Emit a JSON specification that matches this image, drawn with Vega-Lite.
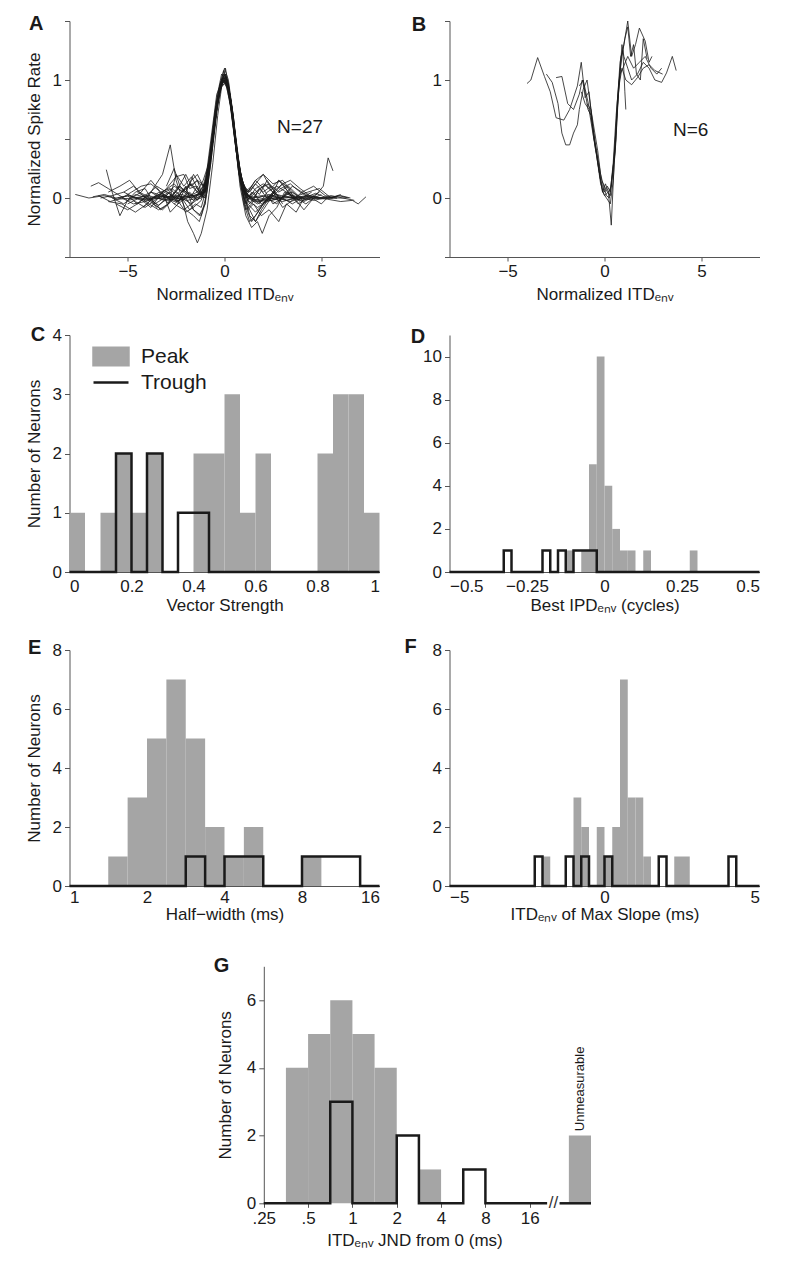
{
"$schema": "https://vega.github.io/schema/vega-lite/v6.json",
"background": "white",
"padding": {"left": 24.5, "top": 12, "right": 5, "bottom": 5},
"config": {
  "view": {"stroke": null},
  "font": "Liberation Sans",
  "axis": {"grid": false, "labelOverlap": false, "domainColor": "#555", "tickColor": "#555", "labelColor": "#1a1a1a", "titleColor": "#1a1a1a", "labelFont": "Liberation Sans", "titleFont": "Liberation Sans", "labelFontSize": 17, "titleFontSize": 17, "titleFontWeight": "normal", "tickSize": 5, "labelPadding": 3, "titlePadding": 8},
  "title": {"fontSize": 20, "fontWeight": "bold", "anchor": "start", "frame": "group", "offset": 0, "baseline": "alphabetic", "color": "#1a1a1a", "font": "Liberation Sans"}
},
"resolve": {"scale": {"color": "independent"}, "legend": {"color": "independent"}},
"datasets": {
"a": [
{"c":1,"x":-7.7,"y":0.03},{"c":1,"x":-7.0,"y":0.0},{"c":1,"x":-6.2,"y":0.02},{"c":1,"x":-5.5,"y":-0.01},{"c":1,"x":-4.7,"y":0.0},{"c":1,"x":-3.9,"y":0.02},{"c":1,"x":-3.1,"y":-0.02},{"c":1,"x":-2.3,"y":0.01},{"c":1,"x":-1.6,"y":0.02},{"c":1,"x":-1.1,"y":0.05},{"c":1,"x":-0.7,"y":0.35},{"c":1,"x":-0.4,"y":0.76},{"c":1,"x":-0.15,"y":0.97},{"c":1,"x":0,"y":1.0},{"c":1,"x":0.15,"y":0.95},{"c":1,"x":0.4,"y":0.7},{"c":1,"x":0.7,"y":0.3},{"c":1,"x":1.1,"y":0.03},{"c":1,"x":1.7,"y":-0.03},{"c":1,"x":2.4,"y":-0.02},{"c":1,"x":3.1,"y":0.0},{"c":1,"x":3.9,"y":0.01},{"c":1,"x":4.6,"y":0.0},{"c":1,"x":5.3,"y":-0.01},{"c":1,"x":6.0,"y":-0.03},{"c":1,"x":6.6,"y":-0.02},{"c":1,"x":6.9,"y":-0.05},{"c":1,"x":7.3,"y":0.01},
{"c":2,"x":-6.9,"y":0.1},{"c":2,"x":-6.5,"y":0.13},{"c":2,"x":-6.0,"y":0.08},{"c":2,"x":-5.6,"y":0.04},{"c":2,"x":-5.0,"y":-0.02},{"c":2,"x":-4.4,"y":0.0},{"c":2,"x":-3.8,"y":0.05},{"c":2,"x":-3.2,"y":0.02},{"c":2,"x":-2.6,"y":-0.03},{"c":2,"x":-2.0,"y":0.0},{"c":2,"x":-1.5,"y":0.02},{"c":2,"x":-1.0,"y":0.08},{"c":2,"x":-0.65,"y":0.42},{"c":2,"x":-0.35,"y":0.82},{"c":2,"x":-0.1,"y":1.02},{"c":2,"x":0.1,"y":1.0},{"c":2,"x":0.35,"y":0.78},{"c":2,"x":0.65,"y":0.38},{"c":2,"x":1.0,"y":0.07},{"c":2,"x":1.5,"y":-0.02},{"c":2,"x":2.1,"y":0.0},{"c":2,"x":2.7,"y":0.03},{"c":2,"x":3.4,"y":0.0},{"c":2,"x":4.0,"y":-0.02},{"c":2,"x":4.6,"y":0.01},{"c":2,"x":5.2,"y":0.0},{"c":2,"x":5.9,"y":0.0},{"c":2,"x":6.3,"y":0.0},
{"c":3,"x":-6.1,"y":0.24},{"c":3,"x":-5.8,"y":0.05},{"c":3,"x":-5.4,"y":-0.15},{"c":3,"x":-5.0,"y":-0.02},{"c":3,"x":-4.6,"y":0.05},{"c":3,"x":-4.1,"y":0.08},{"c":3,"x":-3.6,"y":-0.05},{"c":3,"x":-3.1,"y":0.0},{"c":3,"x":-2.6,"y":0.1},{"c":3,"x":-2.1,"y":0.05},{"c":3,"x":-1.6,"y":-0.02},{"c":3,"x":-1.2,"y":0.0},{"c":3,"x":-0.8,"y":0.25},{"c":3,"x":-0.45,"y":0.7},{"c":3,"x":-0.15,"y":0.95},{"c":3,"x":0.05,"y":1.05},{"c":3,"x":0.25,"y":0.9},{"c":3,"x":0.5,"y":0.6},{"c":3,"x":0.8,"y":0.2},{"c":3,"x":1.2,"y":0.0},{"c":3,"x":1.7,"y":-0.05},{"c":3,"x":2.3,"y":0.02},{"c":3,"x":2.9,"y":0.0},{"c":3,"x":3.5,"y":0.05},{"c":3,"x":4.1,"y":-0.03},{"c":3,"x":4.7,"y":0.02},{"c":3,"x":5.1,"y":0.1},{"c":3,"x":5.35,"y":0.34},{"c":3,"x":5.6,"y":0.23},
{"c":4,"x":-4.5,"y":0.05},{"c":4,"x":-4.0,"y":0.0},{"c":4,"x":-3.6,"y":0.1},{"c":4,"x":-3.2,"y":0.2},{"c":4,"x":-2.8,"y":0.45},{"c":4,"x":-2.5,"y":0.15},{"c":4,"x":-2.2,"y":0.0},{"c":4,"x":-1.9,"y":-0.2},{"c":4,"x":-1.6,"y":-0.3},{"c":4,"x":-1.4,"y":-0.38},{"c":4,"x":-1.2,"y":-0.3},{"c":4,"x":-0.9,"y":-0.1},{"c":4,"x":-0.6,"y":0.3},{"c":4,"x":-0.35,"y":0.7},{"c":4,"x":-0.1,"y":1.0},{"c":4,"x":0.05,"y":1.1},{"c":4,"x":0.2,"y":0.95},{"c":4,"x":0.45,"y":0.65},{"c":4,"x":0.7,"y":0.25},{"c":4,"x":1.0,"y":-0.05},{"c":4,"x":1.3,"y":-0.2},{"c":4,"x":1.6,"y":-0.15},{"c":4,"x":2.0,"y":-0.05},{"c":4,"x":2.5,"y":0.05},{"c":4,"x":3.0,"y":0.0},{"c":4,"x":3.5,"y":-0.05},{"c":4,"x":4.0,"y":0.0},
{"c":5,"x":-5.0,"y":-0.05},{"c":5,"x":-4.4,"y":0.0},{"c":5,"x":-3.8,"y":-0.08},{"c":5,"x":-3.2,"y":0.05},{"c":5,"x":-2.6,"y":0.12},{"c":5,"x":-2.2,"y":0.05},{"c":5,"x":-1.8,"y":0.1},{"c":5,"x":-1.4,"y":0.15},{"c":5,"x":-1.0,"y":0.1},{"c":5,"x":-0.7,"y":0.4},{"c":5,"x":-0.4,"y":0.8},{"c":5,"x":-0.15,"y":1.0},{"c":5,"x":0.05,"y":1.05},{"c":5,"x":0.3,"y":0.85},{"c":5,"x":0.55,"y":0.5},{"c":5,"x":0.8,"y":0.1},{"c":5,"x":1.1,"y":-0.15},{"c":5,"x":1.4,"y":-0.25},{"c":5,"x":1.7,"y":-0.2},{"c":5,"x":1.95,"y":-0.3},{"c":5,"x":2.3,"y":-0.15},{"c":5,"x":2.7,"y":-0.08},{"c":5,"x":3.1,"y":0.05},{"c":5,"x":3.6,"y":0.0},{"c":5,"x":4.1,"y":-0.1},{"c":5,"x":4.6,"y":0.0},{"c":5,"x":5.0,"y":0.03},
{"c":6,"x":-6.0,"y":0.05},{"c":6,"x":-5.4,"y":0.1},{"c":6,"x":-4.9,"y":0.15},{"c":6,"x":-4.4,"y":0.05},{"c":6,"x":-3.8,"y":0.0},{"c":6,"x":-3.3,"y":0.03},{"c":6,"x":-2.7,"y":0.08},{"c":6,"x":-2.2,"y":0.0},{"c":6,"x":-1.7,"y":-0.05},{"c":6,"x":-1.3,"y":0.0},{"c":6,"x":-1.0,"y":0.05},{"c":6,"x":-0.7,"y":0.4},{"c":6,"x":-0.4,"y":0.8},{"c":6,"x":-0.15,"y":0.95},{"c":6,"x":0.05,"y":0.98},{"c":6,"x":0.3,"y":0.8},{"c":6,"x":0.6,"y":0.42},{"c":6,"x":0.9,"y":0.1},{"c":6,"x":1.3,"y":0.0},{"c":6,"x":1.8,"y":0.08},{"c":6,"x":2.3,"y":0.12},{"c":6,"x":2.8,"y":0.05},{"c":6,"x":3.3,"y":0.1},{"c":6,"x":3.8,"y":0.02},{"c":6,"x":4.3,"y":0.05},{"c":6,"x":4.9,"y":0.08},{"c":6,"x":5.5,"y":0.0},{"c":6,"x":6.0,"y":0.03},
{"c":7,"x":-5.6,"y":-0.05},{"c":7,"x":-5.0,"y":-0.1},{"c":7,"x":-4.5,"y":-0.05},{"c":7,"x":-4.0,"y":0.02},{"c":7,"x":-3.5,"y":0.1},{"c":7,"x":-3.0,"y":0.05},{"c":7,"x":-2.5,"y":0.0},{"c":7,"x":-2.0,"y":-0.12},{"c":7,"x":-1.6,"y":-0.08},{"c":7,"x":-1.2,"y":-0.02},{"c":7,"x":-0.9,"y":0.15},{"c":7,"x":-0.6,"y":0.5},{"c":7,"x":-0.3,"y":0.88},{"c":7,"x":-0.05,"y":1.0},{"c":7,"x":0.2,"y":0.92},{"c":7,"x":0.45,"y":0.6},{"c":7,"x":0.75,"y":0.2},{"c":7,"x":1.1,"y":0.02},{"c":7,"x":1.5,"y":0.1},{"c":7,"x":2.0,"y":0.2},{"c":7,"x":2.5,"y":0.12},{"c":7,"x":3.0,"y":0.15},{"c":7,"x":3.5,"y":0.05},{"c":7,"x":4.0,"y":0.0},{"c":7,"x":4.5,"y":0.05},
{"c":8,"x":-4.8,"y":0.0},{"c":8,"x":-4.3,"y":0.05},{"c":8,"x":-3.8,"y":0.15},{"c":8,"x":-3.3,"y":0.05},{"c":8,"x":-2.9,"y":-0.05},{"c":8,"x":-2.4,"y":0.1},{"c":8,"x":-2.0,"y":0.05},{"c":8,"x":-1.6,"y":0.2},{"c":8,"x":-1.3,"y":0.12},{"c":8,"x":-1.0,"y":0.1},{"c":8,"x":-0.7,"y":0.45},{"c":8,"x":-0.4,"y":0.85},{"c":8,"x":-0.15,"y":1.05},{"c":8,"x":0.05,"y":1.0},{"c":8,"x":0.3,"y":0.78},{"c":8,"x":0.6,"y":0.4},{"c":8,"x":0.9,"y":0.12},{"c":8,"x":1.2,"y":0.05},{"c":8,"x":1.6,"y":0.15},{"c":8,"x":2.0,"y":0.2},{"c":8,"x":2.4,"y":0.08},{"c":8,"x":2.8,"y":0.15},{"c":8,"x":3.3,"y":0.05},{"c":8,"x":3.8,"y":-0.05},{"c":8,"x":4.3,"y":0.0},
{"c":9,"x":-3.8,"y":0.0},{"c":9,"x":-3.3,"y":-0.1},{"c":9,"x":-2.9,"y":-0.05},{"c":9,"x":-2.5,"y":0.2},{"c":9,"x":-2.1,"y":0.1},{"c":9,"x":-1.7,"y":0.18},{"c":9,"x":-1.3,"y":0.05},{"c":9,"x":-1.0,"y":0.12},{"c":9,"x":-0.7,"y":0.5},{"c":9,"x":-0.4,"y":0.88},{"c":9,"x":-0.1,"y":1.0},{"c":9,"x":0.15,"y":0.95},{"c":9,"x":0.4,"y":0.7},{"c":9,"x":0.7,"y":0.3},{"c":9,"x":1.0,"y":0.05},{"c":9,"x":1.3,"y":-0.15},{"c":9,"x":1.6,"y":-0.2},{"c":9,"x":2.0,"y":-0.1},{"c":9,"x":2.4,"y":0.0},{"c":9,"x":2.8,"y":0.15},{"c":9,"x":3.2,"y":0.1},{"c":9,"x":3.6,"y":0.0},
{"c":10,"x":-3.2,"y":0.0},{"c":10,"x":-2.8,"y":0.05},{"c":10,"x":-2.4,"y":-0.05},{"c":10,"x":-2.0,"y":0.1},{"c":10,"x":-1.6,"y":-0.1},{"c":10,"x":-1.3,"y":-0.15},{"c":10,"x":-1.0,"y":-0.05},{"c":10,"x":-0.75,"y":0.3},{"c":10,"x":-0.45,"y":0.75},{"c":10,"x":-0.2,"y":0.98},{"c":10,"x":0.0,"y":1.02},{"c":10,"x":0.25,"y":0.88},{"c":10,"x":0.5,"y":0.55},{"c":10,"x":0.8,"y":0.15},{"c":10,"x":1.1,"y":-0.1},{"c":10,"x":1.4,"y":-0.05},{"c":10,"x":1.8,"y":0.08},{"c":10,"x":2.2,"y":0.0},{"c":10,"x":2.6,"y":0.05},{"c":10,"x":3.0,"y":-0.05},
{"c":11,"x":-6.5,"y":0.02},{"c":11,"x":-5.9,"y":-0.03},{"c":11,"x":-5.3,"y":0.0},{"c":11,"x":-4.7,"y":-0.05},{"c":11,"x":-4.1,"y":-0.03},{"c":11,"x":-3.5,"y":0.0},{"c":11,"x":-2.9,"y":-0.02},{"c":11,"x":-2.3,"y":0.0},{"c":11,"x":-1.7,"y":0.02},{"c":11,"x":-1.2,"y":0.03},{"c":11,"x":-0.8,"y":0.25},{"c":11,"x":-0.45,"y":0.72},{"c":11,"x":-0.2,"y":0.95},{"c":11,"x":0,"y":1.0},{"c":11,"x":0.2,"y":0.95},{"c":11,"x":0.45,"y":0.7},{"c":11,"x":0.8,"y":0.22},{"c":11,"x":1.2,"y":0.0},{"c":11,"x":1.8,"y":-0.02},{"c":11,"x":2.4,"y":0.0},{"c":11,"x":3.0,"y":-0.03},{"c":11,"x":3.6,"y":0.0},{"c":11,"x":4.2,"y":0.02},{"c":11,"x":4.8,"y":0.0},{"c":11,"x":5.4,"y":0.0},{"c":11,"x":6.0,"y":0.02},{"c":11,"x":6.5,"y":0.0},
{"c":12,"x":-5.5,"y":0.0},{"c":12,"x":-4.9,"y":0.02},{"c":12,"x":-4.3,"y":-0.02},{"c":12,"x":-3.7,"y":0.0},{"c":12,"x":-3.1,"y":0.02},{"c":12,"x":-2.5,"y":0.0},{"c":12,"x":-1.9,"y":-0.02},{"c":12,"x":-1.4,"y":0.0},{"c":12,"x":-1.0,"y":0.06},{"c":12,"x":-0.65,"y":0.42},{"c":12,"x":-0.35,"y":0.83},{"c":12,"x":-0.1,"y":0.98},{"c":12,"x":0.1,"y":0.98},{"c":12,"x":0.35,"y":0.8},{"c":12,"x":0.65,"y":0.38},{"c":12,"x":1.0,"y":0.05},{"c":12,"x":1.5,"y":-0.03},{"c":12,"x":2.0,"y":-0.02},{"c":12,"x":2.6,"y":0.0},{"c":12,"x":3.2,"y":-0.02},{"c":12,"x":3.8,"y":0.0},{"c":12,"x":4.4,"y":0.02},{"c":12,"x":5.0,"y":0.0},{"c":12,"x":5.6,"y":0.0},
{"c":13,"x":-6.0,"y":-0.03},{"c":13,"x":-5.3,"y":-0.05},{"c":13,"x":-4.6,"y":-0.12},{"c":13,"x":-4.0,"y":-0.05},{"c":13,"x":-3.4,"y":0.05},{"c":13,"x":-2.8,"y":0.0},{"c":13,"x":-2.3,"y":0.1},{"c":13,"x":-1.8,"y":0.02},{"c":13,"x":-1.4,"y":0.05},{"c":13,"x":-1.0,"y":0.05},{"c":13,"x":-0.7,"y":0.38},{"c":13,"x":-0.4,"y":0.8},{"c":13,"x":-0.15,"y":1.0},{"c":13,"x":0.1,"y":1.02},{"c":13,"x":0.35,"y":0.75},{"c":13,"x":0.6,"y":0.4},{"c":13,"x":0.9,"y":0.1},{"c":13,"x":1.2,"y":-0.05},{"c":13,"x":1.6,"y":-0.12},{"c":13,"x":2.0,"y":-0.05},{"c":13,"x":2.5,"y":0.05},{"c":13,"x":3.0,"y":-0.08},{"c":13,"x":3.5,"y":-0.02},{"c":13,"x":4.0,"y":0.05},{"c":13,"x":4.6,"y":0.1},{"c":13,"x":5.2,"y":0.02},{"c":13,"x":5.8,"y":0.0},
{"c":14,"x":-5.0,"y":0.02},{"c":14,"x":-4.5,"y":-0.05},{"c":14,"x":-4.0,"y":0.02},{"c":14,"x":-3.5,"y":-0.08},{"c":14,"x":-3.0,"y":0.0},{"c":14,"x":-2.5,"y":0.05},{"c":14,"x":-2.0,"y":0.2},{"c":14,"x":-1.7,"y":0.1},{"c":14,"x":-1.4,"y":0.15},{"c":14,"x":-1.1,"y":0.0},{"c":14,"x":-0.8,"y":0.2},{"c":14,"x":-0.5,"y":0.65},{"c":14,"x":-0.25,"y":0.92},{"c":14,"x":0.0,"y":1.0},{"c":14,"x":0.25,"y":0.9},{"c":14,"x":0.5,"y":0.6},{"c":14,"x":0.8,"y":0.18},{"c":14,"x":1.1,"y":0.0},{"c":14,"x":1.5,"y":0.05},{"c":14,"x":1.9,"y":-0.05},{"c":14,"x":2.4,"y":0.0},{"c":14,"x":2.9,"y":0.08},{"c":14,"x":3.4,"y":0.12},{"c":14,"x":3.9,"y":0.05},{"c":14,"x":4.4,"y":0.0},{"c":14,"x":4.9,"y":0.05},
{"c":15,"x":-4.2,"y":-0.08},{"c":15,"x":-3.7,"y":0.0},{"c":15,"x":-3.2,"y":0.05},{"c":15,"x":-2.8,"y":-0.12},{"c":15,"x":-2.4,"y":-0.05},{"c":15,"x":-2.0,"y":0.0},{"c":15,"x":-1.6,"y":-0.1},{"c":15,"x":-1.2,"y":-0.15},{"c":15,"x":-0.9,"y":0.05},{"c":15,"x":-0.6,"y":0.45},{"c":15,"x":-0.3,"y":0.85},{"c":15,"x":-0.05,"y":1.05},{"c":15,"x":0.2,"y":0.98},{"c":15,"x":0.45,"y":0.68},{"c":15,"x":0.75,"y":0.25},{"c":15,"x":1.05,"y":-0.05},{"c":15,"x":1.4,"y":-0.2},{"c":15,"x":1.8,"y":-0.1},{"c":15,"x":2.2,"y":0.0},{"c":15,"x":2.7,"y":-0.05},{"c":15,"x":3.2,"y":0.05},{"c":15,"x":3.7,"y":0.0},
{"c":16,"x":-3.0,"y":0.1},{"c":16,"x":-2.6,"y":0.25},{"c":16,"x":-2.3,"y":0.1},{"c":16,"x":-2.0,"y":0.05},{"c":16,"x":-1.7,"y":0.15},{"c":16,"x":-1.4,"y":0.2},{"c":16,"x":-1.1,"y":0.1},{"c":16,"x":-0.8,"y":0.3},{"c":16,"x":-0.5,"y":0.7},{"c":16,"x":-0.25,"y":0.95},{"c":16,"x":0.0,"y":1.05},{"c":16,"x":0.2,"y":0.95},{"c":16,"x":0.45,"y":0.65},{"c":16,"x":0.7,"y":0.3},{"c":16,"x":1.0,"y":0.1},{"c":16,"x":1.3,"y":0.05},{"c":16,"x":1.6,"y":0.12},{"c":16,"x":2.0,"y":0.05},{"c":16,"x":2.4,"y":0.1},{"c":16,"x":2.8,"y":0.0},
{"c":17,"x":-2.6,"y":-0.05},{"c":17,"x":-2.2,"y":0.0},{"c":17,"x":-1.8,"y":-0.1},{"c":17,"x":-1.5,"y":-0.05},{"c":17,"x":-1.2,"y":-0.08},{"c":17,"x":-0.9,"y":0.1},{"c":17,"x":-0.6,"y":0.5},{"c":17,"x":-0.3,"y":0.9},{"c":17,"x":-0.05,"y":1.08},{"c":17,"x":0.2,"y":0.96},{"c":17,"x":0.45,"y":0.7},{"c":17,"x":0.7,"y":0.3},{"c":17,"x":1.0,"y":0.0},{"c":17,"x":1.3,"y":-0.1},{"c":17,"x":1.6,"y":-0.2},{"c":17,"x":1.9,"y":-0.1},{"c":17,"x":2.3,"y":0.0},{"c":17,"x":2.6,"y":0.05},
{"c":18,"x":-6.4,"y":0.0},{"c":18,"x":-5.8,"y":0.02},{"c":18,"x":-5.2,"y":0.05},{"c":18,"x":-4.6,"y":0.0},{"c":18,"x":-4.0,"y":-0.02},{"c":18,"x":-3.4,"y":0.02},{"c":18,"x":-2.8,"y":0.0},{"c":18,"x":-2.2,"y":0.03},{"c":18,"x":-1.7,"y":0.0},{"c":18,"x":-1.2,"y":0.04},{"c":18,"x":-0.85,"y":0.2},{"c":18,"x":-0.55,"y":0.6},{"c":18,"x":-0.25,"y":0.92},{"c":18,"x":0.0,"y":0.97},{"c":18,"x":0.25,"y":0.9},{"c":18,"x":0.55,"y":0.55},{"c":18,"x":0.85,"y":0.18},{"c":18,"x":1.2,"y":0.02},{"c":18,"x":1.7,"y":0.0},{"c":18,"x":2.3,"y":0.03},{"c":18,"x":2.9,"y":0.0},{"c":18,"x":3.5,"y":0.02},{"c":18,"x":4.1,"y":0.0},{"c":18,"x":4.7,"y":0.04},{"c":18,"x":5.3,"y":0.0},{"c":18,"x":5.9,"y":0.02},{"c":18,"x":6.4,"y":0.0},
{"c":19,"x":-5.2,"y":0.05},{"c":19,"x":-4.7,"y":0.1},{"c":19,"x":-4.2,"y":0.02},{"c":19,"x":-3.7,"y":-0.05},{"c":19,"x":-3.2,"y":-0.1},{"c":19,"x":-2.7,"y":-0.02},{"c":19,"x":-2.2,"y":0.05},{"c":19,"x":-1.8,"y":0.12},{"c":19,"x":-1.4,"y":0.05},{"c":19,"x":-1.0,"y":0.0},{"c":19,"x":-0.7,"y":0.35},{"c":19,"x":-0.4,"y":0.78},{"c":19,"x":-0.15,"y":0.98},{"c":19,"x":0.1,"y":1.0},{"c":19,"x":0.35,"y":0.8},{"c":19,"x":0.6,"y":0.45},{"c":19,"x":0.9,"y":0.15},{"c":19,"x":1.2,"y":0.05},{"c":19,"x":1.6,"y":0.15},{"c":19,"x":2.0,"y":0.08},{"c":19,"x":2.5,"y":-0.05},{"c":19,"x":3.0,"y":0.0},{"c":19,"x":3.5,"y":0.1},{"c":19,"x":4.0,"y":0.05},{"c":19,"x":4.5,"y":0.0},{"c":19,"x":5.0,"y":-0.05},{"c":19,"x":5.3,"y":0.0},
{"c":20,"x":-4.6,"y":-0.03},{"c":20,"x":-4.1,"y":-0.08},{"c":20,"x":-3.6,"y":-0.02},{"c":20,"x":-3.1,"y":0.03},{"c":20,"x":-2.6,"y":-0.05},{"c":20,"x":-2.1,"y":-0.1},{"c":20,"x":-1.7,"y":-0.05},{"c":20,"x":-1.3,"y":0.05},{"c":20,"x":-0.95,"y":0.15},{"c":20,"x":-0.65,"y":0.5},{"c":20,"x":-0.35,"y":0.85},{"c":20,"x":-0.1,"y":1.0},{"c":20,"x":0.15,"y":0.98},{"c":20,"x":0.4,"y":0.72},{"c":20,"x":0.7,"y":0.28},{"c":20,"x":1.0,"y":0.05},{"c":20,"x":1.4,"y":0.0},{"c":20,"x":1.8,"y":-0.05},{"c":20,"x":2.2,"y":0.05},{"c":20,"x":2.7,"y":0.1},{"c":20,"x":3.2,"y":0.05},{"c":20,"x":3.7,"y":0.0},{"c":20,"x":4.2,"y":-0.05},{"c":20,"x":4.6,"y":0.0},
{"c":21,"x":-2.0,"y":0.05},{"c":21,"x":-1.7,"y":0.02},{"c":21,"x":-1.4,"y":0.1},{"c":21,"x":-1.15,"y":0.02},{"c":21,"x":-0.9,"y":0.12},{"c":21,"x":-0.65,"y":0.45},{"c":21,"x":-0.4,"y":0.8},{"c":21,"x":-0.15,"y":1.0},{"c":21,"x":0.1,"y":1.03},{"c":21,"x":0.35,"y":0.8},{"c":21,"x":0.6,"y":0.4},{"c":21,"x":0.85,"y":0.1},{"c":21,"x":1.1,"y":-0.05},{"c":21,"x":1.4,"y":0.05},{"c":21,"x":1.7,"y":0.0},{"c":21,"x":2.0,"y":0.02},
{"c":22,"x":-5.8,"y":0.0},{"c":22,"x":-5.2,"y":-0.05},{"c":22,"x":-4.6,"y":0.03},{"c":22,"x":-4.0,"y":0.0},{"c":22,"x":-3.4,"y":-0.06},{"c":22,"x":-2.9,"y":0.0},{"c":22,"x":-2.4,"y":-0.03},{"c":22,"x":-1.9,"y":0.05},{"c":22,"x":-1.5,"y":0.0},{"c":22,"x":-1.1,"y":0.02},{"c":22,"x":-0.75,"y":0.3},{"c":22,"x":-0.45,"y":0.75},{"c":22,"x":-0.2,"y":0.96},{"c":22,"x":0.05,"y":1.0},{"c":22,"x":0.3,"y":0.85},{"c":22,"x":0.55,"y":0.5},{"c":22,"x":0.85,"y":0.15},{"c":22,"x":1.2,"y":-0.02},{"c":22,"x":1.7,"y":-0.08},{"c":22,"x":2.2,"y":-0.03},{"c":22,"x":2.8,"y":0.0},{"c":22,"x":3.4,"y":-0.03},{"c":22,"x":4.0,"y":0.0},{"c":22,"x":4.6,"y":-0.02},{"c":22,"x":5.2,"y":0.0},{"c":22,"x":5.8,"y":0.0},
{"c":23,"x":-3.5,"y":0.0},{"c":23,"x":-3.0,"y":0.08},{"c":23,"x":-2.5,"y":0.18},{"c":23,"x":-2.1,"y":0.2},{"c":23,"x":-1.8,"y":0.08},{"c":23,"x":-1.5,"y":0.1},{"c":23,"x":-1.2,"y":0.03},{"c":23,"x":-0.9,"y":0.08},{"c":23,"x":-0.6,"y":0.5},{"c":23,"x":-0.3,"y":0.88},{"c":23,"x":-0.05,"y":1.0},{"c":23,"x":0.2,"y":0.95},{"c":23,"x":0.45,"y":0.68},{"c":23,"x":0.75,"y":0.25},{"c":23,"x":1.05,"y":0.05},{"c":23,"x":1.4,"y":0.1},{"c":23,"x":1.8,"y":0.03},{"c":23,"x":2.2,"y":0.15},{"c":23,"x":2.6,"y":0.05},{"c":23,"x":3.0,"y":0.12},{"c":23,"x":3.5,"y":0.0},
{"c":24,"x":-4.3,"y":0.0},{"c":24,"x":-3.9,"y":-0.05},{"c":24,"x":-3.4,"y":-0.1},{"c":24,"x":-2.9,"y":-0.05},{"c":24,"x":-2.4,"y":0.05},{"c":24,"x":-2.0,"y":-0.1},{"c":24,"x":-1.6,"y":-0.15},{"c":24,"x":-1.3,"y":-0.2},{"c":24,"x":-1.0,"y":-0.05},{"c":24,"x":-0.7,"y":0.3},{"c":24,"x":-0.4,"y":0.75},{"c":24,"x":-0.15,"y":0.98},{"c":24,"x":0.1,"y":1.02},{"c":24,"x":0.35,"y":0.8},{"c":24,"x":0.6,"y":0.45},{"c":24,"x":0.9,"y":0.08},{"c":24,"x":1.2,"y":-0.1},{"c":24,"x":1.5,"y":-0.05},{"c":24,"x":1.9,"y":-0.15},{"c":24,"x":2.3,"y":-0.1},{"c":24,"x":2.8,"y":-0.2},{"c":24,"x":3.2,"y":-0.05},{"c":24,"x":3.7,"y":-0.12},{"c":24,"x":4.1,"y":0.0},
{"c":25,"x":-6.8,"y":0.01},{"c":25,"x":-6.2,"y":0.03},{"c":25,"x":-5.6,"y":0.0},{"c":25,"x":-5.0,"y":0.02},{"c":25,"x":-4.4,"y":0.0},{"c":25,"x":-3.8,"y":-0.01},{"c":25,"x":-3.2,"y":0.0},{"c":25,"x":-2.6,"y":0.02},{"c":25,"x":-2.0,"y":0.0},{"c":25,"x":-1.5,"y":0.01},{"c":25,"x":-1.05,"y":0.05},{"c":25,"x":-0.7,"y":0.35},{"c":25,"x":-0.4,"y":0.78},{"c":25,"x":-0.15,"y":0.98},{"c":25,"x":0.1,"y":1.0},{"c":25,"x":0.35,"y":0.8},{"c":25,"x":0.6,"y":0.45},{"c":25,"x":0.9,"y":0.12},{"c":25,"x":1.3,"y":0.0},{"c":25,"x":1.9,"y":0.02},{"c":25,"x":2.5,"y":0.0},{"c":25,"x":3.1,"y":0.01},{"c":25,"x":3.7,"y":0.0},{"c":25,"x":4.3,"y":-0.01},{"c":25,"x":4.9,"y":0.0},{"c":25,"x":5.5,"y":0.02},{"c":25,"x":6.1,"y":0.0},{"c":25,"x":6.7,"y":-0.02},
{"c":26,"x":-3.8,"y":0.05},{"c":26,"x":-3.3,"y":0.0},{"c":26,"x":-2.9,"y":0.05},{"c":26,"x":-2.5,"y":-0.02},{"c":26,"x":-2.1,"y":0.08},{"c":26,"x":-1.7,"y":0.12},{"c":26,"x":-1.4,"y":0.05},{"c":26,"x":-1.1,"y":0.15},{"c":26,"x":-0.8,"y":0.3},{"c":26,"x":-0.5,"y":0.72},{"c":26,"x":-0.25,"y":0.95},{"c":26,"x":0.0,"y":1.1},{"c":26,"x":0.2,"y":1.0},{"c":26,"x":0.45,"y":0.7},{"c":26,"x":0.7,"y":0.32},{"c":26,"x":1.0,"y":0.05},{"c":26,"x":1.3,"y":-0.05},{"c":26,"x":1.7,"y":0.05},{"c":26,"x":2.1,"y":0.12},{"c":26,"x":2.5,"y":0.05},{"c":26,"x":2.9,"y":0.0},{"c":26,"x":3.4,"y":0.05},{"c":26,"x":3.9,"y":-0.03},
{"c":27,"x":-5.3,"y":0.0},{"c":27,"x":-4.8,"y":0.05},{"c":27,"x":-4.3,"y":0.1},{"c":27,"x":-3.8,"y":0.12},{"c":27,"x":-3.3,"y":0.05},{"c":27,"x":-2.8,"y":0.08},{"c":27,"x":-2.3,"y":-0.02},{"c":27,"x":-1.8,"y":0.05},{"c":27,"x":-1.4,"y":-0.02},{"c":27,"x":-1.0,"y":0.08},{"c":27,"x":-0.7,"y":0.38},{"c":27,"x":-0.4,"y":0.8},{"c":27,"x":-0.15,"y":1.0},{"c":27,"x":0.1,"y":1.02},{"c":27,"x":0.35,"y":0.82},{"c":27,"x":0.6,"y":0.45},{"c":27,"x":0.9,"y":0.12},{"c":27,"x":1.2,"y":-0.02},{"c":27,"x":1.6,"y":0.08},{"c":27,"x":2.0,"y":0.12},{"c":27,"x":2.5,"y":0.05},{"c":27,"x":3.0,"y":0.12},{"c":27,"x":3.4,"y":0.15},{"c":27,"x":3.9,"y":0.08},{"c":27,"x":4.4,"y":0.02},{"c":27,"x":4.9,"y":0.0}
],
"b": [
{"c":1,"x":-4.0,"y":0.97},{"c":1,"x":-3.8,"y":1.0},{"c":1,"x":-3.45,"y":1.19},{"c":1,"x":-3.1,"y":1.03},{"c":1,"x":-2.8,"y":0.9},{"c":1,"x":-2.5,"y":0.68},{"c":1,"x":-2.1,"y":0.66},{"c":1,"x":-1.8,"y":0.75},{"c":1,"x":-1.4,"y":0.95},{"c":1,"x":-1.2,"y":1.15},{"c":1,"x":-1.0,"y":0.85},{"c":1,"x":-0.8,"y":0.9},{"c":1,"x":-0.6,"y":0.6},{"c":1,"x":-0.4,"y":0.35},{"c":1,"x":-0.2,"y":0.12},{"c":1,"x":0,"y":0.02},{"c":1,"x":0.2,"y":0.05},{"c":1,"x":0.35,"y":0.1},{"c":1,"x":0.5,"y":0.35},{"c":1,"x":0.65,"y":0.75},{"c":1,"x":0.8,"y":1.05},{"c":1,"x":0.9,"y":1.3},{"c":1,"x":1.0,"y":1.2},{"c":1,"x":1.2,"y":1.1},{"c":1,"x":1.4,"y":1.0},{"c":1,"x":1.7,"y":1.05},{"c":1,"x":2.0,"y":1.15},{"c":1,"x":2.3,"y":1.1},{"c":1,"x":2.6,"y":1.0},{"c":1,"x":2.95,"y":0.98},{"c":1,"x":3.2,"y":1.06},{"c":1,"x":3.5,"y":1.2},{"c":1,"x":3.7,"y":1.08},
{"c":2,"x":-3.0,"y":1.05},{"c":2,"x":-2.7,"y":0.98},{"c":2,"x":-2.4,"y":0.8},{"c":2,"x":-2.2,"y":0.55},{"c":2,"x":-2.0,"y":0.45},{"c":2,"x":-1.8,"y":0.45},{"c":2,"x":-1.6,"y":0.55},{"c":2,"x":-1.4,"y":0.62},{"c":2,"x":-1.3,"y":0.75},{"c":2,"x":-1.1,"y":0.92},{"c":2,"x":-0.9,"y":1.0},{"c":2,"x":-0.7,"y":0.75},{"c":2,"x":-0.5,"y":0.45},{"c":2,"x":-0.3,"y":0.25},{"c":2,"x":-0.1,"y":0.05},{"c":2,"x":0.1,"y":0.0},{"c":2,"x":0.3,"y":-0.05},{"c":2,"x":0.45,"y":0.15},{"c":2,"x":0.6,"y":0.55},{"c":2,"x":0.75,"y":0.95},{"c":2,"x":0.9,"y":1.1},{"c":2,"x":1.1,"y":1.0},{"c":2,"x":1.4,"y":0.96},{"c":2,"x":1.7,"y":1.02},{"c":2,"x":2.0,"y":1.1},{"c":2,"x":2.3,"y":1.13},{"c":2,"x":2.6,"y":1.08},{"c":2,"x":3.0,"y":1.05},
{"c":3,"x":-2.5,"y":1.02},{"c":3,"x":-2.2,"y":1.03},{"c":3,"x":-1.9,"y":0.8},{"c":3,"x":-1.6,"y":0.75},{"c":3,"x":-1.3,"y":0.88},{"c":3,"x":-1.15,"y":1.0},{"c":3,"x":-1.0,"y":0.9},{"c":3,"x":-0.85,"y":0.75},{"c":3,"x":-0.7,"y":0.7},{"c":3,"x":-0.55,"y":0.5},{"c":3,"x":-0.4,"y":0.4},{"c":3,"x":-0.25,"y":0.2},{"c":3,"x":-0.1,"y":0.05},{"c":3,"x":0.05,"y":0.12},{"c":3,"x":0.2,"y":0.05},{"c":3,"x":0.35,"y":-0.23},{"c":3,"x":0.5,"y":0.3},{"c":3,"x":0.6,"y":0.5},{"c":3,"x":0.7,"y":0.9},{"c":3,"x":0.8,"y":1.15},{"c":3,"x":1.0,"y":1.3},{"c":3,"x":1.2,"y":1.5},{"c":3,"x":1.4,"y":1.2},{"c":3,"x":1.6,"y":1.3},{"c":3,"x":1.8,"y":1.44},{"c":3,"x":2.1,"y":1.33},{"c":3,"x":2.3,"y":1.15},{"c":3,"x":2.45,"y":1.2},
{"c":4,"x":-1.3,"y":0.95},{"c":4,"x":-1.1,"y":1.0},{"c":4,"x":-0.9,"y":0.85},{"c":4,"x":-0.7,"y":0.7},{"c":4,"x":-0.5,"y":0.5},{"c":4,"x":-0.35,"y":0.3},{"c":4,"x":-0.2,"y":0.15},{"c":4,"x":0,"y":0.05},{"c":4,"x":0.15,"y":0.1},{"c":4,"x":0.3,"y":0.05},{"c":4,"x":0.45,"y":0.3},{"c":4,"x":0.6,"y":0.7},{"c":4,"x":0.75,"y":1.0},{"c":4,"x":0.9,"y":1.2},{"c":4,"x":1.05,"y":1.35},{"c":4,"x":1.2,"y":1.45},{"c":4,"x":1.35,"y":1.2},{"c":4,"x":1.5,"y":1.3},{"c":4,"x":1.65,"y":1.05},{"c":4,"x":1.85,"y":1.0},{"c":4,"x":2.0,"y":1.35},{"c":4,"x":2.2,"y":1.18},
{"c":5,"x":-1.2,"y":0.9},{"c":5,"x":-1.0,"y":0.8},{"c":5,"x":-0.8,"y":0.75},{"c":5,"x":-0.6,"y":0.55},{"c":5,"x":-0.45,"y":0.4},{"c":5,"x":-0.3,"y":0.3},{"c":5,"x":-0.15,"y":0.15},{"c":5,"x":0,"y":0.1},{"c":5,"x":0.15,"y":0.05},{"c":5,"x":0.3,"y":0.02},{"c":5,"x":0.45,"y":0.25},{"c":5,"x":0.6,"y":0.6},{"c":5,"x":0.75,"y":0.95},{"c":5,"x":0.85,"y":1.2},{"c":5,"x":0.95,"y":1.25},{"c":5,"x":1.05,"y":0.9},{"c":5,"x":1.1,"y":0.75},
{"c":6,"x":-0.9,"y":0.8},{"c":6,"x":-0.7,"y":0.75},{"c":6,"x":-0.5,"y":0.55},{"c":6,"x":-0.35,"y":0.4},{"c":6,"x":-0.2,"y":0.2},{"c":6,"x":-0.05,"y":0.1},{"c":6,"x":0.1,"y":0.02},{"c":6,"x":0.25,"y":0.0},{"c":6,"x":0.4,"y":0.2},{"c":6,"x":0.55,"y":0.4},{"c":6,"x":0.65,"y":0.8},{"c":6,"x":0.8,"y":1.05},{"c":6,"x":0.95,"y":1.1},{"c":6,"x":1.2,"y":1.2},{"c":6,"x":1.5,"y":1.1},{"c":6,"x":1.8,"y":1.15},{"c":6,"x":2.1,"y":1.2},{"c":6,"x":2.4,"y":1.1},{"c":6,"x":2.7,"y":1.05},{"c":6,"x":2.95,"y":1.1}
],
"cPeak": [{"x0":0,"x1":0.05,"n":1},{"x0":0.1,"x1":0.15,"n":1},{"x0":0.15,"x1":0.2,"n":2},{"x0":0.2,"x1":0.25,"n":1},{"x0":0.25,"x1":0.3,"n":2},{"x0":0.4,"x1":0.45,"n":2},{"x0":0.45,"x1":0.5,"n":2},{"x0":0.5,"x1":0.55,"n":3},{"x0":0.55,"x1":0.6,"n":1},{"x0":0.6,"x1":0.65,"n":2},{"x0":0.8,"x1":0.85,"n":2},{"x0":0.85,"x1":0.9,"n":3},{"x0":0.9,"x1":0.95,"n":3},{"x0":0.95,"x1":1,"n":1}],
"cTrough": [{"x":0,"n":0},{"x":0.15,"n":2},{"x":0.2,"n":0},{"x":0.25,"n":2},{"x":0.3,"n":0},{"x":0.35,"n":1},{"x":0.45,"n":0},{"x":1,"n":0}],
"dPeak": [{"x0":-0.125,"x1":-0.1,"n":1},{"x0":-0.075,"x1":-0.05,"n":1},{"x0":-0.05,"x1":-0.025,"n":5},{"x0":-0.025,"x1":0,"n":10},{"x0":0,"x1":0.025,"n":4},{"x0":0.025,"x1":0.05,"n":2},{"x0":0.05,"x1":0.075,"n":1},{"x0":0.075,"x1":0.1,"n":1},{"x0":0.125,"x1":0.15,"n":1},{"x0":0.275,"x1":0.3,"n":1}],
"dTrough": [{"x":-0.5,"n":0},{"x":-0.325,"n":1},{"x":-0.3,"n":0},{"x":-0.2,"n":1},{"x":-0.175,"n":0},{"x":-0.15,"n":1},{"x":-0.125,"n":0},{"x":-0.1,"n":1},{"x":-0.025,"n":0},{"x":0.5,"n":0}],
"ePeak": [{"x0":1.4142,"x1":1.6818,"n":1},{"x0":1.6818,"x1":2,"n":3},{"x0":2,"x1":2.3784,"n":5},{"x0":2.3784,"x1":2.8284,"n":7},{"x0":2.8284,"x1":3.3636,"n":5},{"x0":3.3636,"x1":4,"n":2},{"x0":4,"x1":4.7568,"n":1},{"x0":4.7568,"x1":5.6569,"n":2},{"x0":8,"x1":9.5137,"n":1}],
"eTrough": [{"x":1,"n":0},{"x":2.8284,"n":1},{"x":3.3636,"n":0},{"x":4,"n":1},{"x":5.6569,"n":0},{"x":8,"n":1},{"x":13.4543,"n":0},{"x":16,"n":0}],
"fPeak": [{"x0":-2,"x1":-1.75,"n":1},{"x0":-1,"x1":-0.75,"n":3},{"x0":-0.75,"x1":-0.5,"n":2},{"x0":-0.25,"x1":0,"n":2},{"x0":0,"x1":0.25,"n":1},{"x0":0.25,"x1":0.5,"n":2},{"x0":0.5,"x1":0.75,"n":7},{"x0":0.75,"x1":1,"n":3},{"x0":1,"x1":1.25,"n":3},{"x0":1.25,"x1":1.5,"n":1},{"x0":2.25,"x1":2.5,"n":1},{"x0":2.5,"x1":2.75,"n":1}],
"fTrough": [{"x":-5,"n":0},{"x":-2.25,"n":1},{"x":-2,"n":0},{"x":-1.25,"n":1},{"x":-1,"n":0},{"x":-0.75,"n":1},{"x":-0.5,"n":0},{"x":0,"n":1},{"x":0.25,"n":0},{"x":1.75,"n":1},{"x":2,"n":0},{"x":4,"n":1},{"x":4.25,"n":0},{"x":5,"n":0}],
"gPeak": [{"x0":0.3536,"x1":0.5,"n":4},{"x0":0.5,"x1":0.7071,"n":5},{"x0":0.7071,"x1":1,"n":6},{"x0":1,"x1":1.4142,"n":5},{"x0":1.4142,"x1":2,"n":4},{"x0":2.8284,"x1":4,"n":1},{"x0":29.5,"x1":41.7,"n":2}],
"gTrough": [{"s":1,"x":0.25,"n":0},{"s":1,"x":0.7071,"n":3},{"s":1,"x":1,"n":0},{"s":1,"x":2,"n":2},{"s":1,"x":2.8284,"n":0},{"s":1,"x":5.6569,"n":1},{"s":1,"x":8,"n":0},{"s":1,"x":21,"n":0},{"s":2,"x":25.5,"n":0},{"s":2,"x":41.7,"n":0}]
},
"vconcat": [
 {"concat": [
   {"width": 310, "height": 236, "title": {"text": "A", "dx": -40.5, "dy": 26},
    "layer": [
     {"data": {"name": "a"}, "mark": {"type": "line", "color": "#1a1a1a", "strokeWidth": 0.8, "clip": true},
      "encoding": {
       "x": {"field": "x", "type": "quantitative", "scale": {"domain": [-8, 8], "nice": false}, "axis": {"values": [-5, 0, 5], "labelExpr": "format(datum.value, '')", "title": "Normalized ITDₑₙᵥ", "tickSize": 4, "labelPadding": 2, "titlePadding": 7}},
       "y": {"field": "y", "type": "quantitative", "scale": {"domain": [-0.5, 1.5], "nice": false}, "axis": {"values": [-0.5, 0, 0.5, 1, 1.5], "labelExpr": "datum.value == 0 || datum.value == 1 ? format(datum.value, '') : ''", "title": "Normalized Spike Rate", "titlePadding": 9}},
       "detail": {"field": "c", "type": "nominal"}}},
     {"data": {"values": [{"t": "N=27"}]}, "mark": {"type": "text", "fontSize": 19, "color": "#1a1a1a"},
      "encoding": {"x": {"datum": 3.9}, "y": {"datum": 0.6}, "text": {"field": "t"}}}
    ]},
   {"width": 310, "height": 236, "title": {"text": "B", "dx": -37.8, "dy": 26.5},
    "layer": [
     {"data": {"name": "b"}, "mark": {"type": "line", "color": "#1a1a1a", "strokeWidth": 0.8, "clip": true},
      "encoding": {
       "x": {"field": "x", "type": "quantitative", "scale": {"domain": [-8, 8], "nice": false}, "axis": {"values": [-5, 0, 5], "labelExpr": "format(datum.value, '')", "title": "Normalized ITDₑₙᵥ", "tickSize": 4, "labelPadding": 2, "titlePadding": 7}},
       "y": {"field": "y", "type": "quantitative", "scale": {"domain": [-0.5, 1.5], "nice": false}, "axis": {"values": [-0.5, 0, 0.5, 1, 1.5], "labelExpr": "datum.value == 0 || datum.value == 1 ? format(datum.value, '') : ''", "title": null}},
       "detail": {"field": "c", "type": "nominal"}}},
     {"data": {"values": [{"t": "N=6"}]}, "mark": {"type": "text", "fontSize": 19, "color": "#1a1a1a"},
      "encoding": {"x": {"datum": 4.45}, "y": {"datum": 0.58}, "text": {"field": "t"}}}
    ]},
   {"width": 310, "height": 237, "title": {"text": "C", "dx": -38.8, "dy": 23},
    "layer": [
     {"data": {"name": "cPeak"}, "mark": {"type": "rect"},
      "encoding": {
       "x": {"field": "x0", "type": "quantitative", "scale": {"domain": [0, 1], "nice": false}, "axis": {"values": [0, 0.2, 0.4, 0.6, 0.8, 1], "labelExpr": "format(datum.value, '')", "title": "Vector Strength", "tickSize": 0, "labelPadding": 6, "titlePadding": 3}},
       "x2": {"field": "x1"},
       "y": {"field": "n", "type": "quantitative", "scale": {"domain": [0, 4], "nice": false}, "axis": {"values": [0, 1, 2, 3, 4], "labelExpr": "format(datum.value, '')", "title": "Number of Neurons", "titlePadding": 9}},
       "y2": {"datum": 0},
       "color": {"datum": "Peak", "type": "nominal", "scale": {"domain": ["Peak", "Trough"], "range": ["#a5a5a5", "#1a1a1a"]},
        "legend": {"title": null, "orient": "none", "legendX": 31, "legendY": 11, "padding": 0, "labelFontSize": 21, "labelColor": "#1a1a1a", "labelFont": "Liberation Sans", "symbolSize": 306, "labelOffset": 19.5, "rowPadding": 0,
         "encode": {"symbols": {"update": {
          "shape": {"signal": "datum.value === 'Peak' ? 'M-2,-1H2V1H-2Z' : 'M-2,0H2'"},
          "fill": {"signal": "datum.value === 'Peak' ? '#a5a5a5' : 'transparent'"},
          "stroke": {"signal": "datum.value === 'Peak' ? 'transparent' : '#1a1a1a'"},
          "strokeWidth": {"value": 2.5}, "opacity": {"value": 1}, "fillOpacity": {"value": 1}}}}}}}},
     {"data": {"name": "cTrough"}, "mark": {"type": "line", "interpolate": "step-after", "strokeWidth": 2.5},
      "encoding": {"x": {"field": "x", "type": "quantitative"}, "y": {"field": "n", "type": "quantitative"}, "color": {"datum": "Trough", "type": "nominal"}}}
    ]},
   {"width": 310, "height": 237, "title": {"text": "D", "dx": -38.8, "dy": 16},
    "layer": [
     {"data": {"name": "dPeak"}, "mark": {"type": "rect", "color": "#a5a5a5"},
      "encoding": {
       "x": {"field": "x0", "type": "quantitative", "scale": {"domain": [-0.5, 0.5], "nice": false}, "axis": {"values": [-0.5, -0.25, 0, 0.25, 0.5], "labelExpr": "format(datum.value, '')", "title": "Best IPDₑₙᵥ (cycles)", "tickSize": 0, "labelPadding": 6, "titlePadding": 3}},
       "x2": {"field": "x1"},
       "y": {"field": "n", "type": "quantitative", "scale": {"domain": [0, 11], "nice": false}, "axis": {"values": [0, 2, 4, 6, 8, 10], "labelExpr": "format(datum.value, '')", "title": null}},
       "y2": {"datum": 0}}},
     {"data": {"name": "dTrough"}, "mark": {"type": "line", "interpolate": "step-after", "strokeWidth": 2.5, "color": "#1a1a1a"},
      "encoding": {"x": {"field": "x", "type": "quantitative"}, "y": {"field": "n", "type": "quantitative"}}}
    ]},
   {"width": 310, "height": 236, "title": {"text": "E", "dx": -41.5, "dy": 21},
    "layer": [
     {"data": {"name": "ePeak"}, "mark": {"type": "rect", "color": "#a5a5a5"},
      "encoding": {
       "x": {"field": "x0", "type": "quantitative", "scale": {"type": "log", "base": 2, "domain": [1, 16], "nice": false}, "axis": {"values": [1, 2, 4, 8, 16], "labelExpr": "format(datum.value, '')", "title": "Half−width (ms)", "tickSize": 0, "labelPadding": 3, "titlePadding": 1}},
       "x2": {"field": "x1"},
       "y": {"field": "n", "type": "quantitative", "scale": {"domain": [0, 8], "nice": false}, "axis": {"values": [0, 2, 4, 6, 8], "labelExpr": "format(datum.value, '')", "title": "Number of Neurons", "titlePadding": 9}},
       "y2": {"datum": 0}}},
     {"data": {"name": "eTrough"}, "mark": {"type": "line", "interpolate": "step-after", "strokeWidth": 2.5, "color": "#1a1a1a"},
      "encoding": {"x": {"field": "x", "type": "quantitative"}, "y": {"field": "n", "type": "quantitative"}}}
    ]},
   {"width": 310, "height": 236, "title": {"text": "F", "dx": -45, "dy": 20},
    "layer": [
     {"data": {"name": "fPeak"}, "mark": {"type": "rect", "color": "#a5a5a5"},
      "encoding": {
       "x": {"field": "x0", "type": "quantitative", "scale": {"domain": [-5, 5], "nice": false}, "axis": {"values": [-5, 0, 5], "labelExpr": "format(datum.value, '')", "title": "ITDₑₙᵥ  of Max Slope (ms)", "tickSize": 0, "labelPadding": 3, "titlePadding": 1}},
       "x2": {"field": "x1"},
       "y": {"field": "n", "type": "quantitative", "scale": {"domain": [0, 8], "nice": false}, "axis": {"values": [0, 2, 4, 6, 8], "labelExpr": "format(datum.value, '')", "title": null}},
       "y2": {"datum": 0}}},
     {"data": {"name": "fTrough"}, "mark": {"type": "line", "interpolate": "step-after", "strokeWidth": 2.5, "color": "#1a1a1a"},
      "encoding": {"x": {"field": "x", "type": "quantitative"}, "y": {"field": "n", "type": "quantitative"}}}
    ]}
  ],
  "columns": 2,
  "spacing": {"row": 78, "column": 70},
  "align": "each",
  "bounds": "flush",
  "resolve": {"scale": {"color": "independent"}, "legend": {"color": "independent"}}
 },
 {"width": 353, "height": 237, "title": {"text": "G", "dx": -24.3, "dy": 14},
    "layer": [
     {"data": {"name": "gPeak"}, "mark": {"type": "rect", "color": "#a5a5a5"},
      "encoding": {
       "x": {"field": "x0", "type": "quantitative", "scale": {"type": "log", "base": 2, "domain": [0.16713, 41.7], "nice": false}, "axis": {"values": [0.25, 0.5, 1, 2, 4, 8, 16], "labelExpr": "datum.value == 0.25 ? '.25' : datum.value == 0.5 ? '.5' : format(datum.value, '')", "title": "ITDₑₙᵥ JND from 0 (ms)", "domain": false, "tickSize": 4, "labelPadding": 3, "titlePadding": 6}},
       "x2": {"field": "x1"},
       "y": {"field": "n", "type": "quantitative", "scale": {"domain": [0, 7], "nice": false}, "axis": {"values": [0, 1, 2, 3, 4, 5, 6, 7], "labelExpr": "format(datum.value, '')", "title": "Number of Neurons", "titlePadding": 12, "offset": -25.8}},
       "y2": {"datum": 0}}},
     {"data": {"name": "gTrough"}, "mark": {"type": "line", "interpolate": "step-after", "strokeWidth": 2.5, "color": "#1a1a1a"},
      "encoding": {"x": {"field": "x", "type": "quantitative"}, "y": {"field": "n", "type": "quantitative"}, "detail": {"field": "s", "type": "nominal"}}},
     {"data": {"values": [{"t": "//"}]}, "mark": {"type": "text", "fontSize": 17, "color": "#333", "baseline": "middle"},
      "encoding": {"x": {"datum": 23.2}, "y": {"datum": 0}, "text": {"field": "t"}}},
     {"data": {"values": [{"t": "Unmeasurable"}]}, "mark": {"type": "text", "fontSize": 13, "color": "#1a1a1a", "angle": 270, "align": "left", "baseline": "middle"},
      "encoding": {"x": {"datum": 35.1}, "y": {"datum": 2.13}, "text": {"field": "t"}}}
    ]}
],
"spacing": 34.3,
"center": true
}
